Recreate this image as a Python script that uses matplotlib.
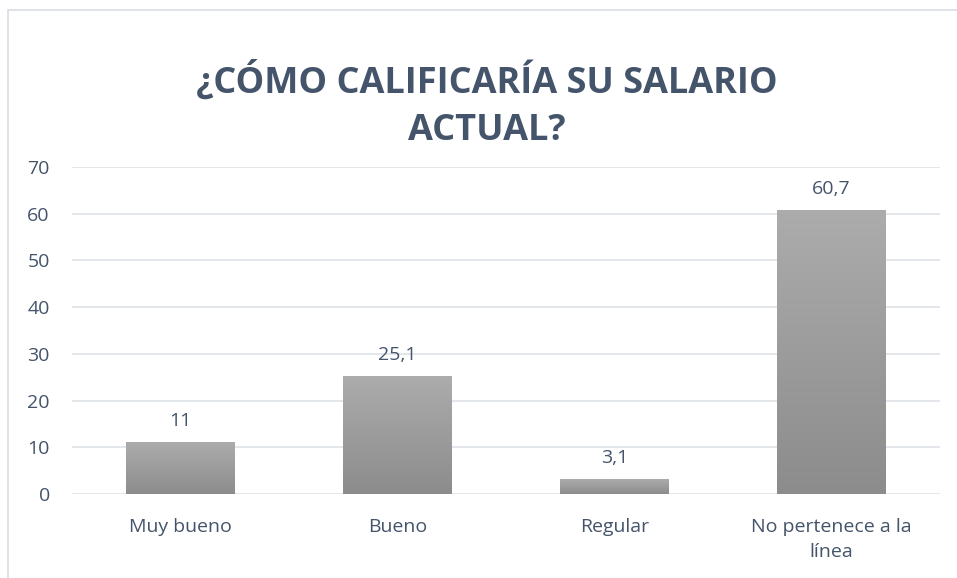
import matplotlib
matplotlib.use("Agg")
import matplotlib.pyplot as plt
import numpy as np
from matplotlib.patches import Rectangle
from matplotlib.colors import LinearSegmentedColormap

categories = ["Muy bueno", "Bueno", "Regular", "No pertenece a la\nlínea"]
values = [11, 25.1, 3.1, 60.7]
value_labels = ["11", "25,1", "3,1", "60,7"]
yticks = [0, 10, 20, 30, 40, 50, 60, 70]

text_color = "#44546A"
font = "Open Sans"

fig = plt.figure(figsize=(9.57, 5.78), dpi=100)
fig.patch.set_facecolor("white")
fig.patches.append(Rectangle((8/957, -0.2), 2, 1.2 - 10/578, transform=fig.transFigure,
                             fill=False, edgecolor="#D9DDE3", linewidth=1.2))

ax = fig.add_axes([72/957, 84/578, 868/957, (494-167)/578])
x = np.arange(len(categories))
bars = ax.bar(x, values, width=0.5, color="none", zorder=3)
grad = np.linspace(0, 1, 256).reshape(-1, 1)
cmap = LinearSegmentedColormap.from_list("g", ["#8C8C8C", "#ACACAC"])
for b in bars:
    x0, w, h = b.get_x(), b.get_width(), b.get_height()
    ax.imshow(grad, extent=(x0, x0 + w, 0, h), origin="lower", aspect="auto",
              cmap=cmap, zorder=3, interpolation="bilinear")
for b, lab in zip(bars, value_labels):
    ax.annotate(lab, (b.get_x() + b.get_width()/2, b.get_height()),
                xytext=(0, 9), textcoords="offset points", ha="center", va="bottom",
                fontsize=14, color=text_color, family=font)

ax.set_xlim(-0.5, len(categories) - 0.5)
ax.set_ylim(0, 70)
ax.set_yticks(yticks)
ax.set_yticklabels([str(t) for t in yticks], fontsize=14, color=text_color, family=font)
ax.set_xticks(x)
ax.set_xticklabels(categories, fontsize=14, color=text_color, family=font, linespacing=1.55)
ax.tick_params(axis="both", length=0)
ax.tick_params(axis="y", pad=16)
ax.tick_params(axis="x", pad=17)
ax.grid(axis="y", color="#E1E5EA", linewidth=1.3, zorder=0)
for s in ax.spines.values():
    s.set_visible(False)
ax.set_aspect("auto")

fig.text(487/957, 1 - 105/578, "¿CÓMO CALIFICARÍA SU SALARIO\nACTUAL?", ha="center", va="center",
         fontsize=26, fontweight="bold", color=text_color, family=font, linespacing=1.4)

fig.savefig("out.png", dpi=100, facecolor="white")
